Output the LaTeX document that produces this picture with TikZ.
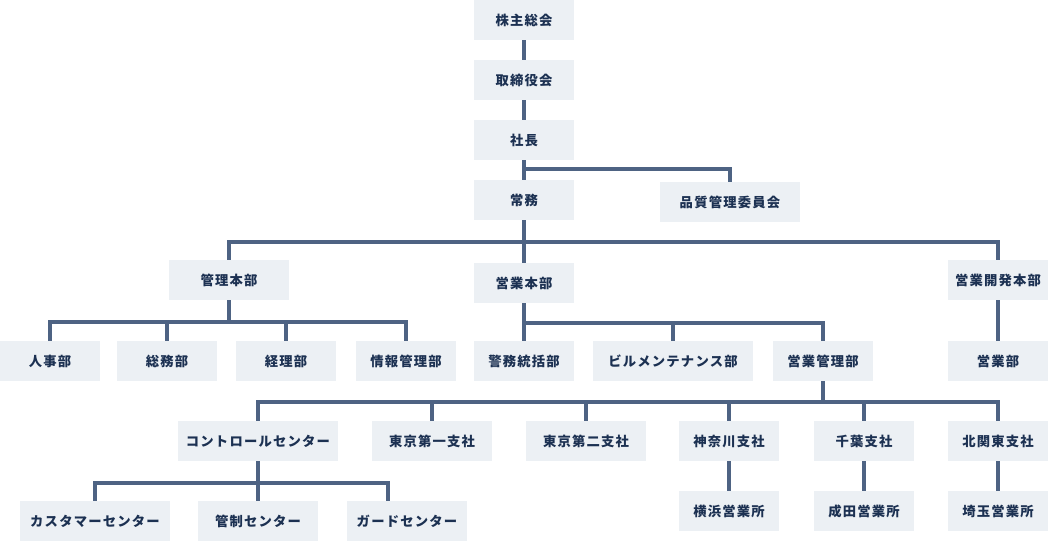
\documentclass[tikz,border=0pt]{standalone}
\usepackage{fontspec}
\setmainfont{Noto Sans CJK JP}[LetterSpace=9]
\usetikzlibrary{positioning, calc}

\definecolor{boxfill}{HTML}{ECF0F4}
\definecolor{textnavy}{HTML}{1C3152}
\definecolor{linkcol}{HTML}{4E6383}

\begin{document}
\begin{tikzpicture}[
        x=0.75pt, y=-0.75pt,
        dept/.style={rectangle, fill=boxfill, text=textnavy, minimum width=#1*0.75pt, minimum height=30pt, inner sep=0pt, font=\bfseries\fontsize{10}{12}\selectfont},
        dept/.default=100,
        link/.style={draw=linkcol, line width=2.6pt},
    ]
        \useasboundingbox (0,0) rectangle (1048,541);

        % Top - board and president
        \node (kabunushi) [dept] at (524,20) {株主総会};
        \node (torishimari) [dept] at (524,80) {取締役会};
        \node (shacho) [dept] at (524,140) {社長};
        \node (jomu) [dept] at (524,200) {常務};
        \node (hinshitsu) [dept=140] at (730,202) {品質管理委員会};

        % Headquarters
        \node (kanri) [dept=120] at (229,280) {管理本部};
        \node (eigyo) [dept] at (524,283) {営業本部};
        \node (kaihatsu) [dept] at (998,280) {営業開発本部};

        % Departments
        \node (jinji) [dept] at (50,361) {人事部};
        \node (somu) [dept] at (167,361) {総務部};
        \node (keiri) [dept] at (286,361) {経理部};
        \node (joho) [dept] at (406,361) {情報管理部};
        \node (keimu) [dept] at (524,361) {警務統括部};
        \node (biru) [dept=160] at (673,361) {ビルメンテナンス部};
        \node (eikanri) [dept] at (823,361) {営業管理部};
        \node (eigyobu) [dept] at (998,361) {営業部};

        % Branches
        \node (control) [dept=160] at (258,441) {コントロールセンター};
        \node (tokyo1) [dept=120] at (432,441) {東京第一支社};
        \node (tokyo2) [dept=120] at (586,441) {東京第二支社};
        \node (kanagawa) [dept] at (729,441) {神奈川支社};
        \node (chiba) [dept] at (864,441) {千葉支社};
        \node (kitakanto) [dept] at (998,441) {北関東支社};

        % Centers and offices
        \node (customer) [dept=150] at (95,521) {カスタマーセンター};
        \node (kansei) [dept=120] at (258,521) {管制センター};
        \node (guard) [dept=120] at (407,521) {ガードセンター};
        \node (yokohama) [dept] at (729,511) {横浜営業所};
        \node (narita) [dept] at (864,511) {成田営業所};
        \node (saitama) [dept] at (998,511) {埼玉営業所};

        % Bus points
        \coordinate (bus0) at (524,169);
        \coordinate (bus1) at (524,242);
        \coordinate (bus2) at (229,322);
        \coordinate (bus3) at (524,323);
        \coordinate (bus4) at (823,402);
        \coordinate (bus5) at (258,483);

        % Vertical spine
        \draw [link] (kabunushi.south) -- (torishimari.north);
        \draw [link] (torishimari.south) -- (shacho.north);
        \draw [link] (shacho.south) -- (jomu.north);
        \draw [link] (bus0) -| (hinshitsu.north);
        \draw [link] (jomu.south) -- (eigyo.north);
        \draw [link] (kanri.north) |- (bus1) -| (kaihatsu.north);

        % Kanri honbu
        \draw [link] (kanri.south) -- (bus2);
        \draw [link] (jinji.north) |- (bus2) -| (joho.north);
        \foreach \d in {somu, keiri}
            \draw [link] (\d.north) -- (\d.north |- bus2);

        % Eigyo honbu
        \draw [link] (eigyo.south) -- (keimu.north);
        \draw [link] (bus3) -| (eikanri.north);
        \draw [link] (biru.north) -- (biru.north |- bus3);
        \draw [link] (kaihatsu.south) -- (eigyobu.north);

        % Eigyo kanri bu
        \draw [link] (eikanri.south) -- (bus4);
        \draw [link] (control.north) |- (bus4) -| (kitakanto.north);
        \foreach \b in {tokyo1, tokyo2, kanagawa, chiba}
            \draw [link] (\b.north) -- (\b.north |- bus4);
        \draw [link] (kanagawa.south) -- (yokohama.north);
        \draw [link] (chiba.south) -- (narita.north);
        \draw [link] (kitakanto.south) -- (saitama.north);

        % Control center
        \draw [link] (control.south) -- (kansei.north);
        \draw [link] (customer.north) |- (bus5) -| ($(guard.north)+(-19,0)$);
    \end{tikzpicture}
\end{document}
